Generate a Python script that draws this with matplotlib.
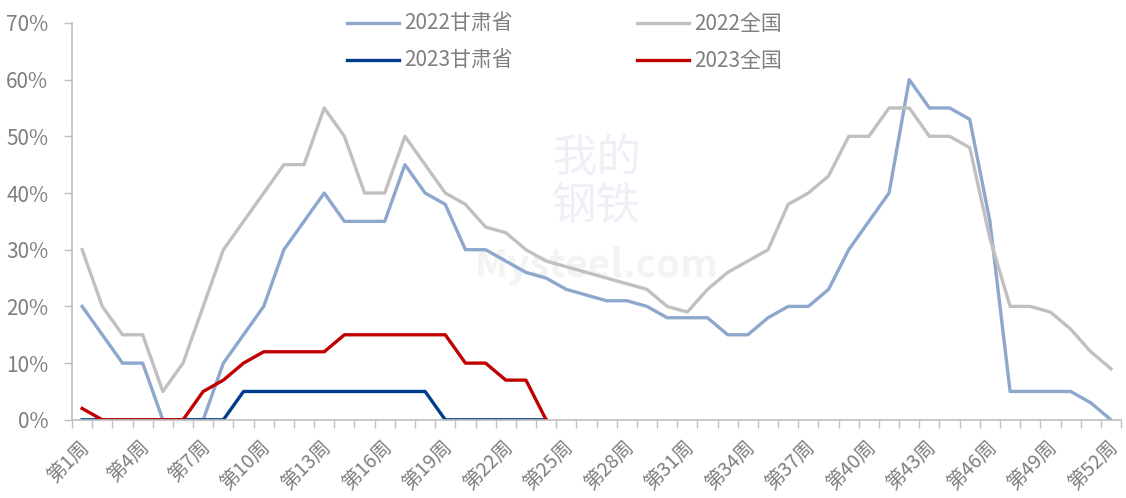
import numpy as np
import matplotlib.pyplot as plt
import matplotlib.transforms as mtransforms
from matplotlib.ticker import FuncFormatter

plt.rcParams['font.family'] = ['Noto Sans CJK SC', 'DejaVu Sans']

weeks = np.arange(1, 53)
weeks_2023 = np.arange(1, 25)

gansu_2022 = [20, 15, 10, 10, 0, 0, 0, 10, 15, 20, 30, 35, 40, 35, 35, 35, 45, 40, 38, 30,
              30, 28, 26, 25, 23, 22, 21, 21, 20, 18, 18, 18, 15, 15, 18, 20, 20, 23, 30, 35,
              40, 60, 55, 55, 53, 35, 5, 5, 5, 5, 3, 0]
national_2022 = [30, 20, 15, 15, 5, 10, 20, 30, 35, 40, 45, 45, 55, 50, 40, 40, 50, 45, 40, 38,
                 34, 33, 30, 28, 27, 26, 25, 24, 23, 20, 19, 23, 26, 28, 30, 38, 40, 43, 50, 50,
                 55, 55, 50, 50, 48, 32, 20, 20, 19, 16, 12, 9]
gansu_2023 = [0, 0, 0, 0, 0, 0, 0, 0, 5, 5, 5, 5, 5, 5, 5, 5, 5, 5, 0, 0, 0, 0, 0, 0]
national_2023 = [2, 0, 0, 0, 0, 0, 5, 7, 10, 12, 12, 12, 12, 15, 15, 15, 15, 15, 15, 10, 10, 7, 7, 0]

tick_weeks = list(range(1, 53, 3))
tick_labels = ["第%d周" % w for w in tick_weeks]

fig = plt.figure(figsize=(11.26, 4.98), dpi=100)
ax = fig.add_axes([0.064, 0.157, 0.9316, 0.797])

lw = 2.4
l1, = ax.plot(weeks, gansu_2022, color="#8DA7CD", lw=lw, label="2022甘肃省")
l2, = ax.plot(weeks, national_2022, color="#C0C0C0", lw=lw, label="2022全国")
l3, = ax.plot(weeks_2023, gansu_2023, color="#003C8C", lw=lw, label="2023甘肃省")
l4, = ax.plot(weeks_2023, national_2023, color="#C00000", lw=lw, label="2023全国")

# faint watermark
ax.text(0.5, 0.6, "我的\n钢铁", transform=ax.transAxes, ha="center", va="center",
        fontsize=32, color="#EDF0F6", zorder=0, linespacing=1.05)
ax.text(0.5, 0.39, "Mysteel.com", transform=ax.transAxes, ha="center", va="center",
        fontsize=28, color="#F3F3F3", zorder=0, fontweight="bold")

ax.set_xlim(0.5, 52.5)
ax.set_ylim(0, 70)
ax.set_yticks(np.arange(0, 71, 10))
ax.yaxis.set_major_formatter(FuncFormatter(lambda v, p: "%d%%" % v))

ax.set_xticks(tick_weeks)
ax.set_xticklabels(tick_labels, rotation=45, ha="right", va="top", rotation_mode="anchor")
ax.set_xticks(np.arange(0.5, 53, 1), minor=True)
ax.tick_params(axis="x", which="major", length=0, pad=12, labelsize=14, labelcolor="#7F7F7F")
ax.tick_params(axis="x", which="minor", length=6, width=1, color="#BFBFBF", direction="out")
ax.tick_params(axis="y", length=6, width=1, color="#BFBFBF", labelsize=15, labelcolor="#7F7F7F", pad=11)

shift = mtransforms.ScaledTranslation(-4 / 100, 0, fig.dpi_scale_trans)
for lab in ax.get_xticklabels():
    lab.set_transform(lab.get_transform() + shift)

for s in ["top", "right"]:
    ax.spines[s].set_visible(False)
for s in ["left", "bottom"]:
    ax.spines[s].set_color("#BFBFBF")
    ax.spines[s].set_linewidth(1.2)

leg = fig.legend(handles=[l1, l3, l2, l4], ncol=2, frameon=False,
                 loc="upper left", bbox_to_anchor=(0.299, 0.994), borderpad=0,
                 fontsize=15, handlelength=2.5, handletextpad=0.25,
                 columnspacing=5.95, labelspacing=0.72)
for t in leg.get_texts():
    t.set_color("#7F7F7F")

fig.savefig("out.png", dpi=100)
